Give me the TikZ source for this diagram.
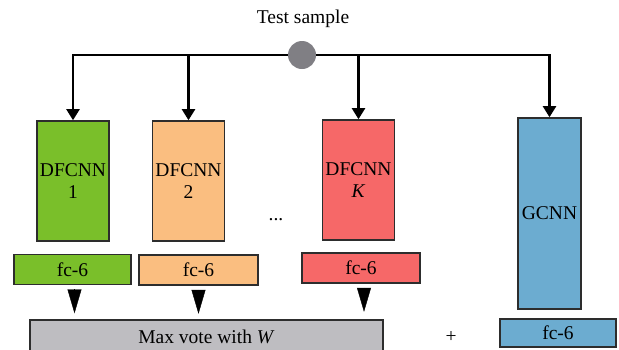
\documentclass[tikz,border=0pt]{standalone}
\usepackage{fontspec}
\setmainfont{Liberation Serif}
\usepackage{tikz}
\usetikzlibrary{arrows.meta}

\definecolor{netgreen}{RGB}{122,191,42}
\definecolor{netorange}{RGB}{250,190,128}
\definecolor{netred}{RGB}{246,104,104}
\definecolor{netblue}{RGB}{108,172,208}
\definecolor{votegray}{RGB}{190,189,193}
\definecolor{dotgray}{RGB}{128,127,132}
\definecolor{boxline}{RGB}{45,45,45}

\begin{document}
\begin{tikzpicture}[x=1pt,y=-1pt,every node/.style = {font=\fontsize{19.5}{22}\selectfont, inner sep=0pt, align=center}]

\tikzstyle{net} = [draw=boxline, line width=1.6pt, minimum width=72pt, minimum height=120pt]
\tikzstyle{fc} = [draw=boxline, line width=1.6pt, minimum width=118pt, minimum height=30pt]
\tikzstyle{bus} = [line width=2.2pt, -{Triangle[width=13pt,length=11pt]}]
\tikzstyle{vote} = [-{Triangle[width=14pt,length=24pt]}]

\clip (0,0) rectangle (619,349);

\node (title) at (303,19) {Test sample};
\node[circle, fill=dotgray, minimum size=28pt] (dot) at (302,55) {};

% DFCNN branches
\node[net, fill=netgreen] (cnn1) at (73,181) {DFCNN\\1};
\node[net, fill=netorange] (cnn2) at (188.5,181) {DFCNN\\2};
\node[net, fill=netred] (cnnK) at (358.5,180) {DFCNN\\\textit{K}};
\node[anchor=base] (dots) at (276,220) {...};
\node[draw=boxline, line width=1.6pt, fill=netblue, minimum width=63pt, minimum height=191pt] (gcnn) at (549.5,213.5) {GCNN};

\node[fc, fill=netgreen, minimum width=117pt] (fc1) at (72.5,269.5) {fc-6};
\node[fc, fill=netorange, minimum width=119pt] (fc2) at (198.5,270) {fc-6};
\node[fc, fill=netred] (fcK) at (361,268) {fc-6};
\node[fc, fill=netblue, minimum width=116pt, minimum height=28pt] (fcG) at (558,333) {fc-6};

\node[fc, fill=votegray, minimum width=353pt, minimum height=34pt] (maxvote) at (206.5,337) {Max vote with \textit{W}};
\node (plus) at (451,337) {+};

% bus from the test sample
\draw[bus] (dot.west) -| (cnn1.north);
\draw[bus] (dot.west) -| (cnn2.north);
\draw[bus] (dot.east) -| (cnnK.north);
\draw[bus] (dot.east) -| (gcnn.north);

% into the vote
\draw[vote] ([xshift=2pt,yshift=-4pt]fc1.south) -- ([xshift=2pt,yshift=-28pt]fc1.south);
\draw[vote] ([yshift=-4pt]fc2.south) -- ([yshift=-28pt]fc2.south);
\draw[vote] ([xshift=3pt,yshift=-4pt]fcK.south) -- ([xshift=3pt,yshift=-28pt]fcK.south);
\end{tikzpicture}
\end{document}
